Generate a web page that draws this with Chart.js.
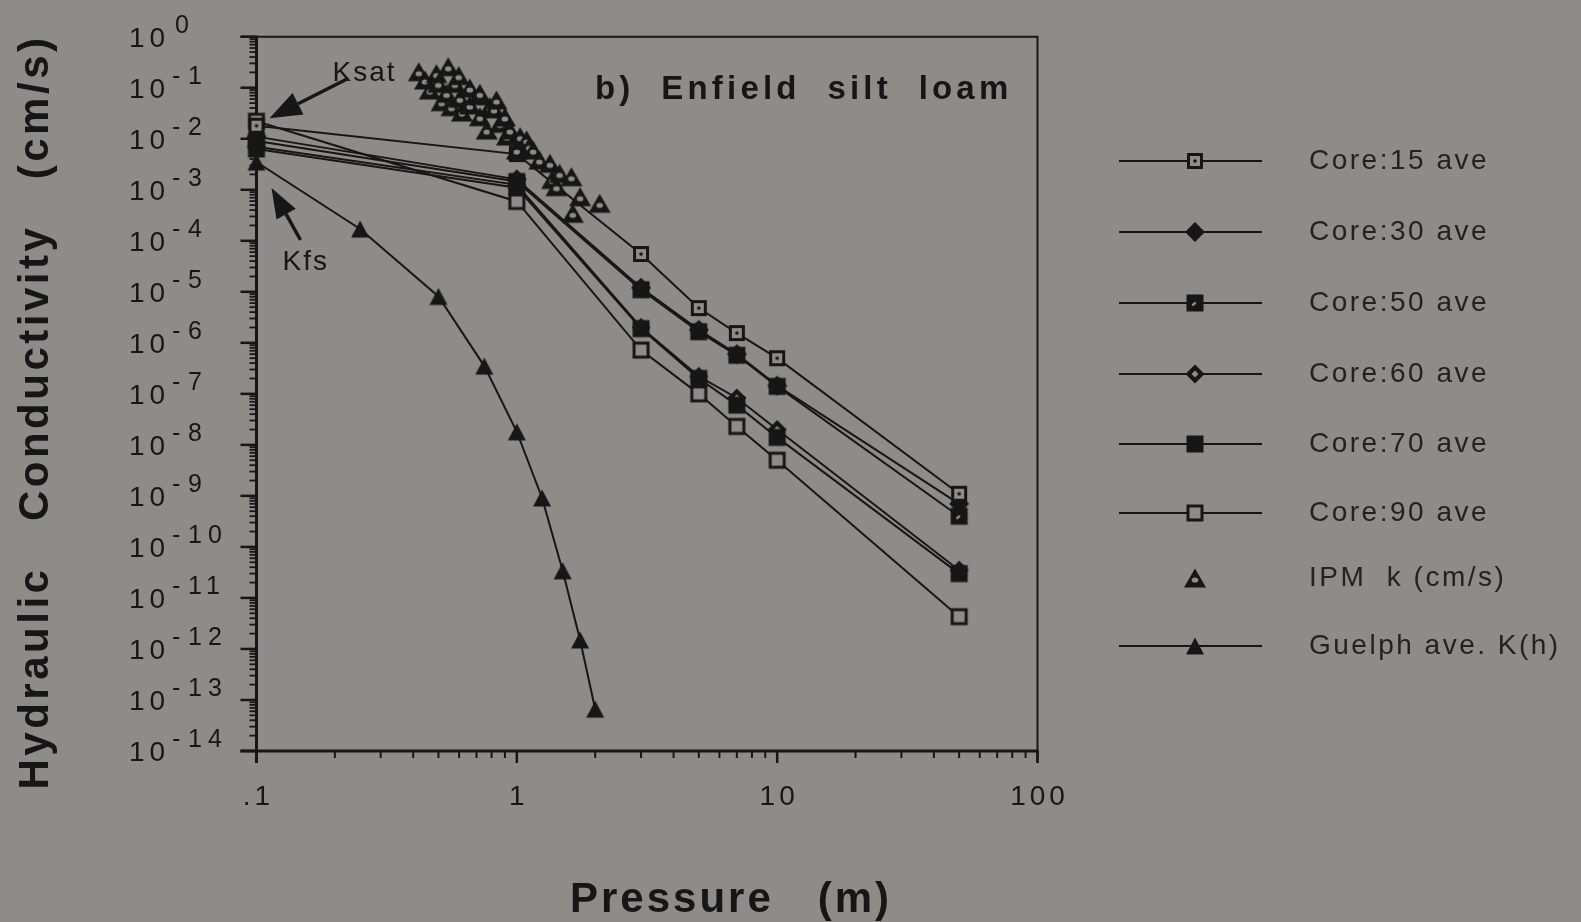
<!DOCTYPE html>
<html>
<head>
<meta charset="utf-8">
<script src="https://cdn.jsdelivr.net/npm/chart.js@4.4.0/dist/chart.umd.min.js"></script>
<style>
  html, body { margin: 0; padding: 0; background: #8e8c88; }
  canvas { display: block; }
</style>
</head>
<body>
<canvas id="chart" width="1581" height="922"></canvas>
<script>
// ---- data: pressure head (m) vs hydraulic conductivity (cm/s) ----
const corePressure = [0.1, 1, 3, 5, 7, 10, 50];
const core15 = [1.8e-2, 5.0e-3, 5.5e-5, 4.8e-6, 1.55e-6, 5.0e-7, 1.1e-9];
const core30 = [1.1e-2, 1.6e-3, 1.2e-5, 1.8e-6, 6.0e-7, 1.45e-7, 7.0e-10];
const core50 = [9.0e-3, 1.45e-3, 1.1e-5, 1.65e-6, 5.7e-7, 1.4e-7, 4.0e-10];
const core60 = [7.0e-3, 1.25e-3, 2.0e-6, 2.2e-7, 8.3e-8, 2.0e-8, 3.5e-11];
const core70 = [6.3e-3, 1.1e-3, 1.9e-6, 2.0e-7, 6.0e-8, 1.4e-8, 3.0e-11];
const core90 = [2.2e-2, 5.9e-4, 7.2e-7, 1.0e-7, 2.3e-8, 5.0e-9, 4.3e-12];

const ipmPressure = [0.42, 0.444, 0.463, 0.491, 0.499, 0.514, 0.537, 0.545, 0.561, 0.578, 0.598,
  0.604, 0.615, 0.66, 0.66, 0.715, 0.721, 0.721, 0.766, 0.787, 0.817, 0.835, 0.861, 0.90, 0.916,
  0.94, 1.0, 1.03, 1.09, 1.117, 1.155, 1.22, 1.34, 1.367, 1.42, 1.46, 1.62, 1.64, 1.75, 2.08];
const ipmK = [0.206, 0.142, 0.0902, 0.189, 0.122, 0.0532, 0.0778, 0.258, 0.0425, 0.122, 0.173,
  0.0621, 0.0334, 0.0458, 0.0987, 0.0695, 0.0778, 0.027, 0.0148, 0.0425, 0.0385, 0.0574, 0.0201,
  0.0267, 0.0113, 0.0148, 0.0060, 0.011, 0.00945, 0.00714, 0.0060, 0.00383, 0.0033, 0.00159,
  0.00115, 0.0021, 0.0018, 0.000346, 0.000731, 0.000543];

const guelphPressure = [0.1, 0.25, 0.5, 0.75, 1, 1.25, 1.5, 1.75, 2];
const guelphK = [3.5e-3, 1.7e-4, 8.1e-6, 3.5e-7, 1.8e-8, 9.1e-10, 3.4e-11, 1.5e-12, 6.6e-14];

const seriesNames = ['Core:15 ave', 'Core:30 ave', 'Core:50 ave', 'Core:60 ave',
  'Core:70 ave', 'Core:90 ave', 'IPM  k (cm/s)', 'Guelph ave. K(h)'];

const xTickValues = [0.1, 1, 10, 100];
const xTickLabels = ['.1', '1', '10', '100'];
const yTickExponents = [0, -1, -2, -3, -4, -5, -6, -7, -8, -9, -10, -11, -12, -13, -14];

const titleText = 'b)  Enfield  silt  loam';
const xTitle = 'Pressure   (m)';
const yTitle = 'Hydraulic   Conductivity   (cm/s)';

// ---- style ----
const BG = '#8e8c88';
const INK = '#161616';
const FONT = '"Liberation Sans", Arial, Helvetica, sans-serif';

function marker(kind) {
  const s = 26, m = s / 2;
  const c = document.createElement('canvas');
  c.width = s; c.height = s;
  const g = c.getContext('2d');
  g.fillStyle = INK;
  const dia = (r) => { g.beginPath(); g.moveTo(m, m - r); g.lineTo(m + r, m); g.lineTo(m, m + r); g.lineTo(m - r, m); g.closePath(); g.fill(); };
  const tri = (w, h, dy) => { g.beginPath(); g.moveTo(m, m - h / 2 + dy); g.lineTo(m + w / 2, m + h / 2 + dy); g.lineTo(m - w / 2, m + h / 2 + dy); g.closePath(); g.fill(); };
  switch (kind) {
    case 'squareDot':
      g.fillRect(m - 8, m - 8, 16, 16);
      g.fillStyle = BG; g.fillRect(m - 5, m - 5, 10, 10);
      g.fillStyle = INK; g.beginPath(); g.arc(m, m, 1.8, 0, Math.PI * 2); g.fill();
      break;
    case 'diamond':
      dia(10);
      break;
    case 'squareFilledDot':
      g.fillRect(m - 8.5, m - 8.5, 17, 17);
      g.fillStyle = BG; g.beginPath(); g.ellipse(m - 1, m + 1, 2.6, 1.4, -0.7, 0, Math.PI * 2); g.fill();
      break;
    case 'diamondOpen':
      dia(9.5);
      g.fillStyle = BG; dia(3.5);
      break;
    case 'squareFilled':
      g.fillRect(m - 8.5, m - 8.5, 17, 17);
      break;
    case 'squareOpen':
      g.fillRect(m - 8.5, m - 8.5, 17, 17);
      g.fillStyle = BG; g.fillRect(m - 5.5, m - 5.5, 11, 11);
      break;
    case 'triangleOpen':
      tri(22, 19, 0);
      g.fillStyle = BG; g.beginPath(); g.ellipse(m, m + 2, 3.3, 2.6, 0, 0, Math.PI * 2); g.fill();
      break;
    case 'triangleFilled':
      tri(18, 17, 0);
      break;
  }
  return c;
}

const markerKinds = ['squareDot', 'diamond', 'squareFilledDot', 'diamondOpen',
  'squareFilled', 'squareOpen', 'triangleOpen', 'triangleFilled'];
const markerImages = markerKinds.map(marker);

const pts = (xs, ys) => xs.map((x, i) => ({ x, y: ys[i] }));
const coreSeries = [core15, core30, core50, core60, core70, core90];

const datasets = coreSeries.map((vals, i) => ({
  label: seriesNames[i],
  data: pts(corePressure, vals),
  showLine: true,
  borderColor: INK,
  borderWidth: 2,
  pointStyle: markerImages[i],
  order: i === 4 ? -0.5 : 0,
  clip: false
}));
datasets.push({
  label: seriesNames[6],
  data: pts(ipmPressure, ipmK),
  showLine: false,
  borderColor: INK,
  pointStyle: markerImages[6],
  order: -1,
  clip: false
});
datasets.push({
  label: seriesNames[7],
  data: pts(guelphPressure, guelphK),
  showLine: true,
  borderColor: INK,
  borderWidth: 2,
  pointStyle: markerImages[7],
  clip: false
});

function drawText(ctx, str, x, y, font, spacing, align, baseline) {
  ctx.font = font;
  ctx.letterSpacing = (spacing || 0) + 'px';
  ctx.textAlign = align || 'left';
  ctx.textBaseline = baseline || 'alphabetic';
  ctx.fillText(str, x, y);
}

function arrow(ctx, tx, ty, fx, fy, headLen, headHalf, width) {
  const ang = Math.atan2(ty - fy, tx - fx);
  const bx = tx - Math.cos(ang) * headLen, by = ty - Math.sin(ang) * headLen;
  ctx.lineWidth = width;
  ctx.beginPath(); ctx.moveTo(fx, fy); ctx.lineTo(bx, by); ctx.stroke();
  ctx.beginPath();
  ctx.moveTo(tx, ty);
  ctx.lineTo(bx + Math.sin(ang) * headHalf, by - Math.cos(ang) * headHalf);
  ctx.lineTo(bx - Math.sin(ang) * headHalf, by + Math.cos(ang) * headHalf);
  ctx.closePath(); ctx.fill();
}

// frame, ticks and tick labels drawn from the chart's log scales
const axesPlugin = {
  id: 'axes',
  beforeDraw(chart) {
    const { ctx, width, height } = chart;
    ctx.save(); ctx.fillStyle = BG; ctx.fillRect(0, 0, width, height); ctx.restore();
  },
  beforeDatasetsDraw(chart) {
    const { ctx, chartArea: a, scales: { x, y } } = chart;
    ctx.save();
    ctx.strokeStyle = INK; ctx.fillStyle = INK;
    ctx.lineWidth = 2;
    ctx.beginPath();
    ctx.moveTo(a.left - 16, a.top); ctx.lineTo(a.right, a.top); ctx.lineTo(a.right, a.bottom + 12);
    ctx.stroke();
    ctx.lineWidth = 3;
    ctx.beginPath();
    ctx.moveTo(a.left, a.top - 1); ctx.lineTo(a.left, a.bottom + 12);
    ctx.moveTo(a.left - 16, a.bottom); ctx.lineTo(a.right + 1, a.bottom);
    ctx.stroke();
    // x ticks (downward)
    for (let d = -1; d <= 1; d++) {
      for (let k = 2; k <= 9; k++) {
        const px = x.getPixelForValue(k * Math.pow(10, d));
        ctx.lineWidth = 2;
        ctx.beginPath(); ctx.moveTo(px, a.bottom); ctx.lineTo(px, a.bottom + 7); ctx.stroke();
      }
      const pm = x.getPixelForValue(Math.pow(10, d + 1));
      ctx.lineWidth = 2.5;
      ctx.beginPath(); ctx.moveTo(pm, a.bottom); ctx.lineTo(pm, a.bottom + 12); ctx.stroke();
    }
    // y ticks (leftward)
    for (let e = -14; e <= 0; e++) {
      const py = y.getPixelForValue(Math.pow(10, e));
      ctx.lineWidth = 2.5;
      ctx.beginPath(); ctx.moveTo(a.left, py); ctx.lineTo(a.left - 16, py); ctx.stroke();
      if (e < 0) {
        for (let k = 2; k <= 9; k++) {
          const pk = y.getPixelForValue(k * Math.pow(10, e));
          ctx.lineWidth = 1.8;
          ctx.beginPath(); ctx.moveTo(a.left, pk); ctx.lineTo(a.left - 7, pk); ctx.stroke();
        }
      }
    }
    ctx.restore();
  },
  afterDatasetsDraw(chart) {
    const { ctx, chartArea: a, scales: { x, y } } = chart;
    ctx.save();
    ctx.fillStyle = INK; ctx.strokeStyle = INK;
    // x tick labels
    xTickValues.forEach((v, i) => {
      drawText(ctx, xTickLabels[i], x.getPixelForValue(v) + 2, a.bottom + 54, '28px ' + FONT, 4, 'center');
    });
    // y tick labels: 10 with superscript exponent
    yTickExponents.forEach((e) => {
      const py = y.getPixelForValue(Math.pow(10, e));
      drawText(ctx, '10', 129, py + 10, '28px ' + FONT, 5, 'left');
      if (e === 0) {
        drawText(ctx, '0', 175, py - 4, '25px ' + FONT, 0, 'left');
      } else {
        drawText(ctx, '-', 172, py - 4, '25px ' + FONT, 0, 'left');
        drawText(ctx, String(-e), 188, py - 4, '25px ' + FONT, 6, 'left');
      }
    });
    // axis titles
    drawText(ctx, xTitle, 731, 912, 'bold 42px ' + FONT, 3, 'center');
    ctx.save();
    ctx.translate(48, 412); ctx.rotate(-Math.PI / 2);
    drawText(ctx, yTitle, 0, 0, 'bold 42px ' + FONT, 3.5, 'center');
    ctx.restore();
    // panel title
    drawText(ctx, titleText, 595, 99, 'bold 33px ' + FONT, 4.2, 'left');
    // Ksat / Kfs annotations anchored to the 0.1 m points
    const kx = x.getPixelForValue(corePressure[0]);
    const ky = y.getPixelForValue(core90[0]);
    arrow(ctx, kx + 13, ky - 3, kx + 90, ky - 42, 32, 12, 3.5);
    drawText(ctx, 'Ksat', kx + 76, ky - 40, '28px ' + FONT, 2, 'left');
    const gx = x.getPixelForValue(guelphPressure[0]);
    const gy = y.getPixelForValue(guelphK[0]);
    arrow(ctx, gx + 15, gy + 26, gx + 44, gy + 78, 30, 11, 3.5);
    drawText(ctx, 'Kfs', gx + 26, gy + 108, '28px ' + FONT, 2, 'left');
    ctx.restore();
  },
  afterDraw(chart) {
    const { ctx } = chart;
    const rows = chart.options.plugins.sideLegend.rows;
    ctx.save();
    ctx.strokeStyle = INK; ctx.fillStyle = '#222';
    chart.data.datasets.forEach((ds, i) => {
      const ry = rows[i];
      if (ds.showLine) {
        ctx.lineWidth = 2;
        ctx.beginPath(); ctx.moveTo(1119, ry); ctx.lineTo(1262, ry); ctx.stroke();
      }
      const img = ds.pointStyle;
      ctx.drawImage(img, 1195 - img.width / 2, ry - img.height / 2);
      drawText(ctx, ds.label, 1309, ry, '28px ' + FONT, 2.5, 'left', 'middle');
    });
    ctx.restore();
  }
};

new Chart(document.getElementById('chart'), {
  type: 'scatter',
  data: { datasets },
  options: {
    responsive: false,
    devicePixelRatio: 1,
    animation: false,
    events: [],
    layout: { padding: { left: 256.5, right: 543.5, top: 36.7, bottom: 171 } },
    elements: { point: { radius: 8 }, line: { tension: 0 } },
    scales: {
      x: { type: 'logarithmic', min: 0.1, max: 100, display: false },
      y: { type: 'logarithmic', min: 1e-14, max: 1, display: false }
    },
    plugins: {
      legend: { display: false },
      tooltip: { enabled: false },
      sideLegend: { rows: [161, 232, 303, 374, 444, 513, 578, 646] }
    }
  },
  plugins: [axesPlugin]
});
</script>
</body>
</html>
